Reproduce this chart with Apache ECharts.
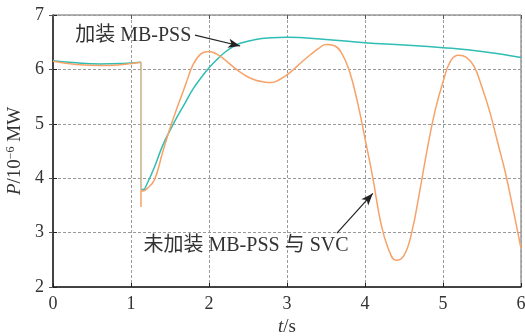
<!DOCTYPE html>
<html><head><meta charset="utf-8">
<script src="https://cdn.jsdelivr.net/npm/echarts@6/dist/echarts.min.js"></script>
<style>html,body{margin:0;padding:0;background:#fff;overflow:hidden}#c{width:525px;height:336px}</style>
</head><body><div id="c"></div>
<script>
// ---- data ----
var faultT = 1.128;
var cyanPre = [[0,6.16],[0.3,6.12],[0.6,6.10],[0.9,6.11],[1.128,6.13]];
var cyanPost = [[1.128,3.79],[1.16,3.79],[1.2,3.88],[1.3,4.2],[1.4,4.58],[1.5,4.88],[1.6,5.15],[1.7,5.40],[1.8,5.65],[1.9,5.85],[2.0,6.03],[2.1,6.18],[2.2,6.31],[2.3,6.41],[2.4,6.48],[2.6,6.55],[2.8,6.58],[3.0,6.59],[3.5,6.55],[4.0,6.49],[4.5,6.45],[5.0,6.40],[5.5,6.33],[6.0,6.22]];
var orangePre = [[0,6.15],[0.3,6.09],[0.6,6.07],[0.9,6.09],[1.128,6.13]];
var orangeSpike = [[1.128,3.79],[1.128,3.47],[1.128,3.76],[1.14,3.76]];
var orangePost = [[1.14,3.76],[1.2,3.80],[1.3,3.97],[1.4,4.45],[1.5,4.92],[1.6,5.33],[1.7,5.72],[1.8,6.10],[1.9,6.29],[2.0,6.33],[2.1,6.28],[2.2,6.18],[2.3,6.06],[2.4,5.95],[2.5,5.86],[2.6,5.80],[2.7,5.77],[2.8,5.76],[2.9,5.81],[3.0,5.90],[3.1,6.02],[3.2,6.15],[3.3,6.27],[3.4,6.38],[3.5,6.46],[3.6,6.44],[3.7,6.30],[3.8,5.97],[3.9,5.42],[4.0,4.73],[4.1,4.01],[4.2,3.20],[4.3,2.70],[4.4,2.49],[4.5,2.58],[4.6,3.01],[4.7,3.75],[4.8,4.55],[4.9,5.25],[5.0,5.77],[5.1,6.16],[5.2,6.26],[5.3,6.22],[5.4,6.05],[5.5,5.67],[5.6,5.22],[5.7,4.66],[5.8,4.10],[5.9,3.42],[6.0,2.71]];
var dropTop = 6.13, dropBottom = 3.79;
var label1 = '加装 MB-PSS', label1Pos = [0.31, 6.63];
var arrow1 = [[1.82,6.63],[2.40,6.43]];
var label2 = '未加装 MB-PSS 与 SVC', label2Pos = [1.16, 2.75];
var arrow2 = [[3.64,2.99],[4.10,3.72]];

var CYAN = '#2fbdb4', ORANGE = '#f6a268', TAN = '#c9ad84';
var FONT = "'Liberation Serif','Noto Sans CJK SC',serif";
var chart = echarts.init(document.getElementById('c'));
var grid = {left:53,right:4,top:15,bottom:49,containLabel:false,outerBoundsMode:'none',show:true,borderColor:'#666',borderWidth:1};
var gridLine = {show:true,lineStyle:{color:'#9a9a9a',type:[3,2],width:1}};
function lineS(data, color, smooth, z){
  return {type:'line',data:data,showSymbol:false,symbol:'none',smooth:smooth?0.45:false,
    lineStyle:{color:color,width:1.5},z:z,silent:true,animation:false};
}
var arrowLine = {silent:true,symbol:['none','arrow'],symbolSize:[7,12],label:{show:false},
  lineStyle:{color:'#222',width:1.2,type:'solid'},animation:false};
var opt = {
  animation:false,
  grid:grid,
  xAxis:[{type:'value',min:0,max:6,interval:1,
    name:'{i|t}/s',nameLocation:'middle',nameGap:30,
    nameTextStyle:{fontFamily:FONT,fontSize:19,color:'#333',rich:{i:{fontStyle:'italic',fontFamily:FONT,fontSize:19,color:'#333'}}},
    axisLine:{lineStyle:{color:'#222',width:1.5}},
    axisTick:{inside:true,length:4,lineStyle:{color:'#222'}},
    axisLabel:{fontFamily:FONT,fontSize:18,color:'#333',margin:8},
    splitLine:gridLine},
    {type:'value',min:0,max:6,interval:1,position:'top',axisLine:{show:false},axisTick:{inside:true,length:4,lineStyle:{color:'#555'}},axisLabel:{show:false},splitLine:{show:false}}],
  yAxis:[{type:'value',min:2,max:7,interval:1,
    name:'{i|P}/10{s|−6} MW',nameLocation:'middle',nameGap:28,nameRotate:90,
    nameTextStyle:{fontFamily:FONT,fontSize:19,color:'#333',rich:{i:{fontStyle:'italic',fontFamily:FONT,fontSize:19,color:'#333'},s:{fontFamily:FONT,fontSize:12,color:'#333',verticalAlign:'top',padding:[0,0,8,0]}}},
    axisLine:{lineStyle:{color:'#222',width:1.5}},
    axisTick:{inside:true,length:4,lineStyle:{color:'#222'}},
    axisLabel:{fontFamily:FONT,fontSize:18,color:'#333',margin:9},
    splitLine:gridLine},
    {type:'value',min:2,max:7,interval:1,position:'right',axisLine:{show:false},axisTick:{inside:true,length:4,lineStyle:{color:'#555'}},axisLabel:{show:false},splitLine:{show:false}}],
  series:[
    lineS(cyanPre, CYAN, true, 3),
    Object.assign(lineS(cyanPost, CYAN, true, 3),{markLine:Object.assign({data:[[{coord:arrow1[0]},{coord:arrow1[1]}],[{coord:arrow2[0]},{coord:arrow2[1]}]]},arrowLine)}),
    lineS(orangePre, ORANGE, true, 4),
    lineS(orangeSpike, ORANGE, false, 4),
    lineS(orangePost, ORANGE, true, 4),
    lineS([[faultT,dropTop],[faultT,dropBottom]], TAN, false, 5)
  ]
};
chart.setOption(opt);
var p1 = chart.convertToPixel({gridIndex:0}, label1Pos);
var p2 = chart.convertToPixel({gridIndex:0}, label2Pos);
chart.setOption({graphic:[
  {type:'text',left:p1[0]-2,top:p1[1]-9,silent:true,style:{text:label1,fontFamily:FONT,fontSize:20,fill:'#333'},z:10},
  {type:'text',left:p2[0],top:p2[1]-10,silent:true,style:{text:label2,fontFamily:FONT,fontSize:20,fill:'#333'},z:10}
]});
</script></body></html>
